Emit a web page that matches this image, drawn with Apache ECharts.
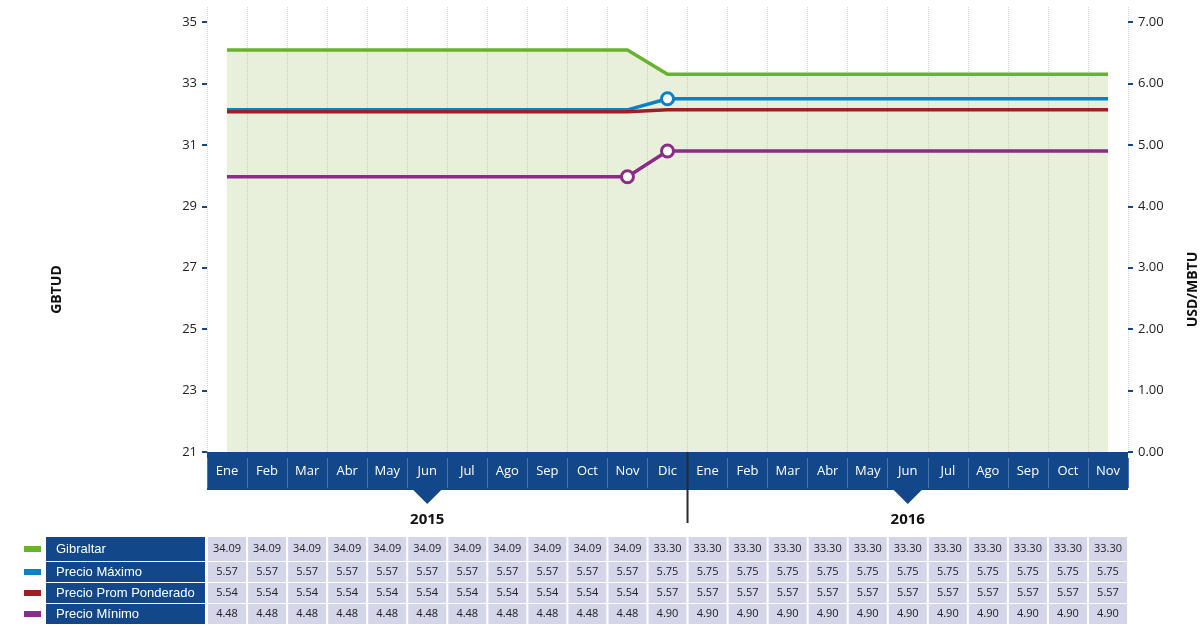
<!DOCTYPE html>
<html>
<head>
<meta charset="utf-8">
<script src="https://cdn.jsdelivr.net/npm/echarts@6/dist/echarts.min.js"></script>
<style>
  html, body { margin: 0; padding: 0; background: #fff; }
  #chart { width: 1202px; height: 627px; }
</style>
</head>
<body>
<div id="chart"></div>
<script>
// meses 2015 (Ene-Dic) y 2016 (Ene-Nov)
const months = ['Ene','Feb','Mar','Abr','May','Jun','Jul','Ago','Sep','Oct','Nov','Dic',
                'Ene','Feb','Mar','Abr','May','Jun','Jul','Ago','Sep','Oct','Nov'];
const years = ['2015', '2016'];
const yearLabelIdx = [5, 17];   // mes bajo el que va la etiqueta del año
const yearBreakIdx = 12;        // primer mes de 2016

const gibraltar  = [34.09,34.09,34.09,34.09,34.09,34.09,34.09,34.09,34.09,34.09,34.09,33.30,
                    33.30,33.30,33.30,33.30,33.30,33.30,33.30,33.30,33.30,33.30,33.30];
const precioMax  = [5.57,5.57,5.57,5.57,5.57,5.57,5.57,5.57,5.57,5.57,5.57,5.75,
                    5.75,5.75,5.75,5.75,5.75,5.75,5.75,5.75,5.75,5.75,5.75];
const precioProm = [5.54,5.54,5.54,5.54,5.54,5.54,5.54,5.54,5.54,5.54,5.54,5.57,
                    5.57,5.57,5.57,5.57,5.57,5.57,5.57,5.57,5.57,5.57,5.57];
const precioMin  = [4.48,4.48,4.48,4.48,4.48,4.48,4.48,4.48,4.48,4.48,4.48,4.90,
                    4.90,4.90,4.90,4.90,4.90,4.90,4.90,4.90,4.90,4.90,4.90];

const leftTicks  = [21, 23, 25, 27, 29, 31, 33, 35];
const rightTicks = [0, 1, 2, 3, 4, 5, 6, 7];

const navy = '#12478a';
const cellBg = '#d4d5e9';

const seriesDefs = [
  { name: 'Gibraltar',             data: gibraltar,  color: '#67b22f', axis: 0, marks: [] },
  { name: 'Precio Máximo',         data: precioMax,  color: '#0a80c6', axis: 1, marks: [11] },
  { name: 'Precio Prom Ponderado', data: precioProm, color: '#a01f24', axis: 1, marks: [] },
  { name: 'Precio Mínimo',         data: precioMin,  color: '#8b2c87', axis: 1, marks: [10, 11] }
];

const chart = echarts.init(document.getElementById('chart'));

const rowOffsets = [97, 120, 141, 162];  // filas de la tabla bajo el eje
const rowHeights = [24, 20, 20, 20];

const tableAxes = seriesDefs.map((s, r) => ({
  type: 'category',
  gridIndex: 0,
  position: 'bottom',
  offset: rowOffsets[r],
  data: s.data.map(v => v.toFixed(2)),
  axisLine: { show: false, onZero: false },
  axisTick: { show: false },
  splitLine: { show: false },
  axisLabel: {
    interval: 0,
    margin: 0,
    verticalAlign: 'middle',
    formatter: v => '{c|' + v + '}',
    rich: {
      c: {
        width: 38, height: rowHeights[r], align: 'center',
        backgroundColor: cellBg, color: '#222',
        fontSize: 11, fontFamily: 'Open Sans'
      }
    }
  }
}));

const option = {
  animation: false,
  grid: { left: 207, right: 74, top: 7, bottom: 175, outerBoundsMode: 'none', containLabel: false },
  legend: {
    orient: 'vertical',
    left: 24,
    top: 537,
    padding: 0,
    itemGap: 1,
    itemWidth: 17,
    itemHeight: 6,
    icon: 'rect',
    selectedMode: false,
    data: seriesDefs.map(s => s.name),
    formatter: name => '{' + (name === 'Gibraltar' ? 'a' : 'b') + '|' + name + '}',
    textStyle: {
      rich: {
        a: { width: 149, height: 24, padding: [0, 0, 0, 10], backgroundColor: navy,
             color: '#fff', fontSize: 13, fontFamily: 'Liberation Sans' },
        b: { width: 149, height: 20, padding: [0, 0, 0, 10], backgroundColor: navy,
             color: '#fff', fontSize: 13, fontFamily: 'Liberation Sans' }
      }
    }
  },
  xAxis: [
    { // banda azul con los meses
      type: 'category',
      data: months,
      position: 'bottom',
      boundaryGap: true,
      offset: 19,
      axisLine: { show: true, onZero: false, lineStyle: { color: navy, width: 38, cap: 'butt' } },
      axisTick: { show: false },
      axisLabel: {
        interval: 0, margin: 0, verticalAlign: 'middle',
        color: '#fff', fontSize: 13, fontFamily: 'Open Sans'
      },
      splitLine: { show: true, lineStyle: { color: '#d6d6d6', type: 'dotted', width: 1 } }
    },
    { // separadores dentro de la banda
      type: 'category',
      data: months,
      position: 'bottom',
      offset: 6,
      axisLine: { show: false, onZero: false },
      axisTick: { show: true, length: 30, lineStyle: { color: '#4d74a8', width: 1 } },
      axisLabel: { show: false },
      splitLine: { show: false },
      z: 5
    },
    { // etiquetas de año
      type: 'category',
      data: months,
      position: 'bottom',
      offset: 68,
      axisLine: { show: false, onZero: false },
      axisTick: { show: false },
      splitLine: { show: false },
      axisLabel: {
        interval: 0, margin: 0, verticalAlign: 'middle',
        formatter: (v, i) => {
          const k = yearLabelIdx.indexOf(i);
          return k >= 0 ? years[k] : '';
        },
        color: '#111', fontSize: 15, fontWeight: 'bold', fontFamily: 'Open Sans'
      }
    }
  ].concat(tableAxes),
  yAxis: [
    {
      type: 'value',
      position: 'left',
      min: 21,
      max: 35.49,
      name: 'GBTUD',
      nameLocation: 'middle',
      nameRotate: 90,
      nameGap: 143,
      nameTextStyle: { fontSize: 14, fontWeight: 'bold', color: '#111', fontFamily: 'Open Sans',
                       padding: [0, 120, 0, 0] },
      axisLine: { show: false },
      axisTick: { show: true, customValues: leftTicks, length: 5, lineStyle: { color: navy, width: 2 } },
      axisLabel: { customValues: leftTicks, margin: 10, color: '#222', fontSize: 13, fontFamily: 'Open Sans' },
      splitLine: { show: false }
    },
    {
      type: 'value',
      position: 'right',
      min: 0,
      max: 7.244,
      name: 'USD/MBTU',
      nameLocation: 'middle',
      nameRotate: 90,
      nameGap: 58,
      nameTextStyle: { fontSize: 14, fontWeight: 'bold', color: '#111', fontFamily: 'Open Sans',
                       padding: [0, 120, 0, 0] },
      axisLine: { show: false },
      axisTick: { show: true, customValues: rightTicks, length: 5, lineStyle: { color: navy, width: 2 } },
      axisLabel: { customValues: rightTicks, margin: 10, formatter: v => v.toFixed(2),
                   color: '#222', fontSize: 13, fontFamily: 'Open Sans' },
      splitLine: { show: false }
    }
  ],
  series: seriesDefs.map(s => ({
    name: s.name,
    type: 'line',
    xAxisIndex: 0,
    yAxisIndex: s.axis,
    color: s.color,
    symbol: 'none',
    lineStyle: { color: s.color, width: 3.5 },
    itemStyle: { color: s.color },
    areaStyle: s.axis === 0 ? { color: 'rgba(145,185,90,0.3)', origin: 'start' } : undefined,
    z: s.axis === 0 ? 1 : 3,
    data: s.data.map((v, i) => s.marks.indexOf(i) >= 0
      ? { value: v, symbol: 'circle', symbolSize: 12,
          itemStyle: { color: '#fff', borderColor: s.color, borderWidth: 3 } }
      : v)
  }))
};

chart.setOption(option);

// triángulos bajo la banda y separador de años, ubicados con la escala del eje
const px = i => chart.convertToPixel({ xAxisIndex: 0 }, i);
const graphics = yearLabelIdx.map(i => {
  const x = px(i);
  return { type: 'polygon', shape: { points: [[x - 15, 489], [x + 15, 489], [x, 504]] },
           style: { fill: navy }, z: 10 };
});
const xb = (px(yearBreakIdx - 1) + px(yearBreakIdx)) / 2;
graphics.push({ type: 'line', shape: { x1: xb, y1: 452, x2: xb, y2: 523 },
                style: { stroke: '#2a2a2a', lineWidth: 2 }, z: 10 });
chart.setOption({ graphic: graphics });
</script>
</body>
</html>
